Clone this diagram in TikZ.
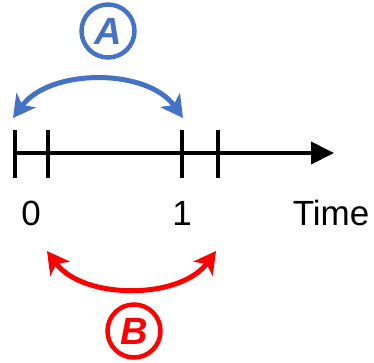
\documentclass[tikz,border=0pt]{standalone}
\usepackage{fontspec}
\setmainfont{Liberation Sans}
\usetikzlibrary{arrows.meta}
\definecolor{blueA}{HTML}{4472C4}
\definecolor{redB}{HTML}{FF0000}
\begin{document}
\begin{tikzpicture}[x=1pt,y=-1pt,
  axisline/.style={line width=4pt,-{Triangle[length=23pt,width=22pt]}},
  tickmark/.style={line width=4.5pt},
  spanarrow/.style={line width=5pt,{Stealth[length=22pt,width=24pt,inset=6pt]}-{Stealth[length=22pt,width=24pt,inset=6pt]}},
  badge/.style={circle,line width=4.5pt,minimum size=53pt,inner sep=0pt,font=\fontsize{38}{38}\selectfont\bfseries\itshape},
  ticklabel/.style={font=\fontsize{35}{35}\selectfont,anchor=base}]
\useasboundingbox (0,0) rectangle (374,362);
% time axis
\coordinate (o) at (14,153);
\coordinate (end) at (334,153);
\draw[axisline] (o) -- (end);
% tick marks
\foreach \n/\x in {t0/15,t1/48,t2/182,t3/218}{
  \coordinate (\n top) at (\x,130);
  \coordinate (\n bot) at (\x,178);
  \draw[tickmark] (\n top) -- (\n bot);
}
% labels
\node[ticklabel] (zero) at (31,225) {0};
\node[ticklabel] (one) at (182,225) {1};
\node[ticklabel] (time) at (331,225) {Time};
% interval A
\coordinate (a1) at (13,118);
\coordinate (a2) at (183,118);
\draw[spanarrow,blueA] (a1) .. controls (50,68) and (147,68) .. (a2);
\node[badge,draw=blueA,text=blueA] (A) at (108,31) {A};
% interval B
\coordinate (b1) at (47,251);
\coordinate (b2) at (216,251);
\draw[spanarrow,redB] (b1) .. controls (83,300) and (180,300) .. (b2);
\node[badge,draw=redB,text=redB] (B) at (134,331) {B};
\end{tikzpicture}
\end{document}
